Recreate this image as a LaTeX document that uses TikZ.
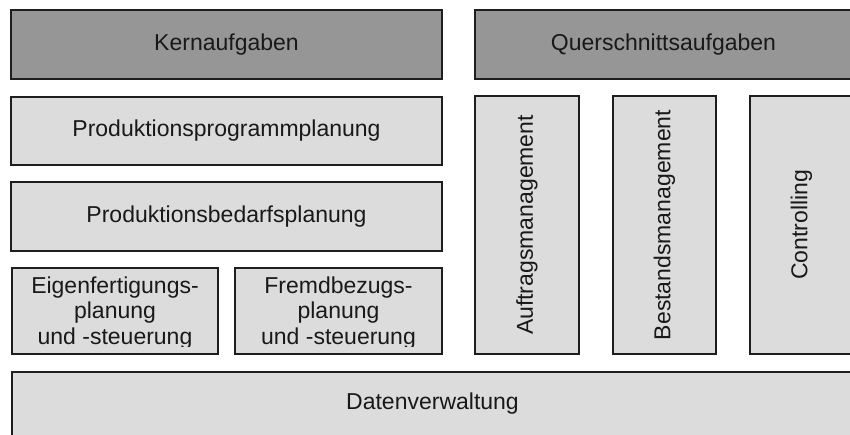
\documentclass[tikz,border=0pt]{standalone}
\usepackage{fontspec}
\setmainfont{Liberation Sans}
\definecolor{darkg}{HTML}{969696}
\definecolor{lightg}{HTML}{DCDCDC}
\definecolor{edge}{HTML}{1E1E1E}
\begin{document}
\begin{tikzpicture}[x=1pt,y=-1pt,
  box/.style={draw=edge, line width=1.3pt, fill=lightg, inner sep=0pt,
    font=\fontsize{23}{25.5}\selectfont, text=black!90, align=center},
  head/.style={box, fill=darkg},
  txt/.style={inner sep=0pt, font=\fontsize{23}{25.5}\selectfont, text=black!90, align=center}]
\clip (0,0) rectangle (850,434);
% header row
\node[head, minimum width=431pt, minimum height=69pt] (kern) at (226.5,44.5) {Kernaufgaben};
\node[head, minimum width=377pt, minimum height=69pt] (quer) at (663.5,44.5) {Querschnittsaufgaben};
% core tasks
\node[box, minimum width=431pt, minimum height=68pt] (ppp) at (226.5,131) {Produktionsprogrammplanung};
\node[box, minimum width=431pt, minimum height=69pt] (pbp) at (226.5,216.5) {Produktionsbedarfsplanung};
\node[box, minimum width=206pt, minimum height=86pt] (eigen) at (115,311) {};
\node[box, minimum width=207pt, minimum height=86pt] (fremd) at (338.5,311) {};
\begin{scope}
  \clip (0,268) rectangle (450,346);
  \node[txt] (eigent) at (115,313) {Eigenfertigungs-\\planung\\und -steuerung};
  \node[txt] (fremdt) at (338.5,313) {Fremdbezugs-\\planung\\und -steuerung};
\end{scope}
% cross-sectional tasks
\node[box, rotate=90, minimum width=258pt, minimum height=104pt] (auftrag) at (527,225) {Auftragsmanagement};
\node[box, rotate=90, minimum width=258pt, minimum height=103pt] (bestand) at (664.5,225) {Bestandsmanagement};
\node[box, rotate=90, minimum width=258pt, minimum height=103pt] (contr) at (801.5,225) {Controlling};
% data
\node[box, minimum width=841pt, minimum height=64pt] (daten) at (432.5,404) {Datenverwaltung};
\end{tikzpicture}
\end{document}
